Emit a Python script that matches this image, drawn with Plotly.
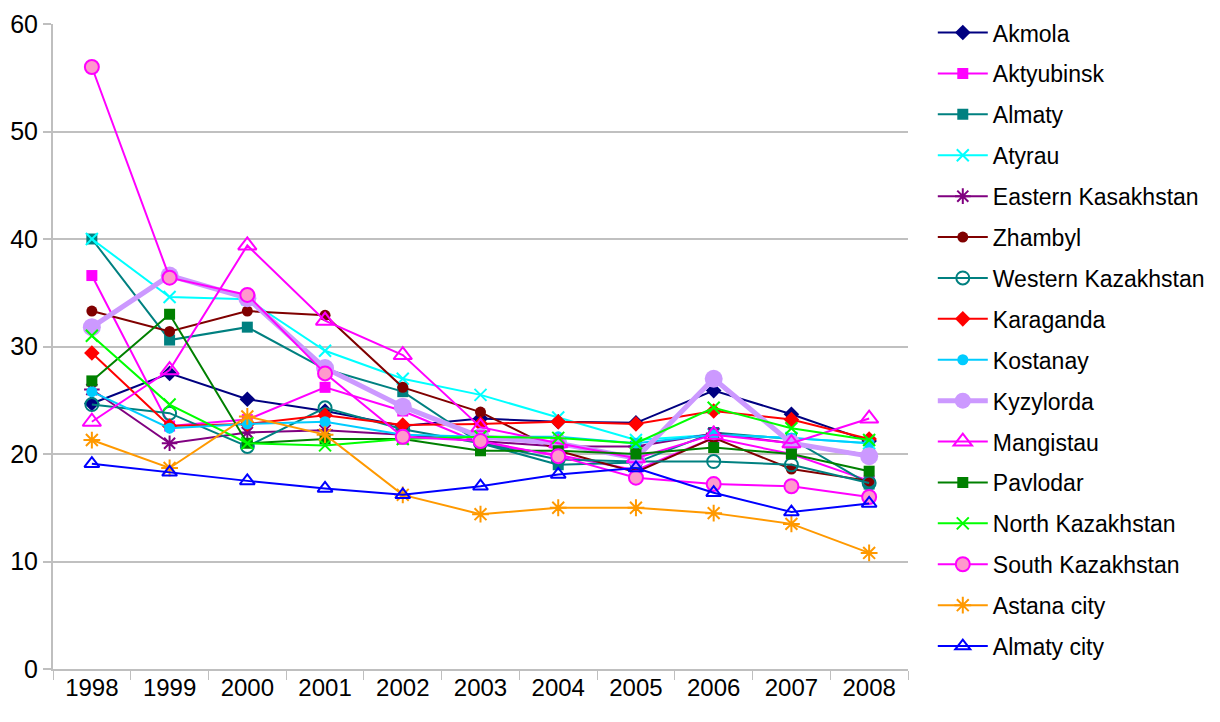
import plotly.graph_objects as go

years = ["1998", "1999", "2000", "2001", "2002", "2003", "2004", "2005", "2006", "2007", "2008"]

akmola = [24.7, 27.5, 25.1, 24.0, 22.6, 23.3, 23.0, 22.9, 25.9, 23.7, 21.2]
aktyubinsk = [36.6, 22.6, 23.2, 26.2, 24.0, 21.0, 19.9, 18.5, 21.5, 20.0, 17.5]
almaty = [40.0, 30.6, 31.8, 27.9, 25.8, 21.0, 19.0, 19.2, 22.0, 21.4, 17.2]
atyrau = [40.0, 34.6, 34.4, 29.6, 27.0, 25.5, 23.4, 21.3, 21.8, 21.5, 21.0]
eastern_kas = [26.0, 21.0, 22.0, 22.2, 21.8, 21.2, 20.7, 20.7, 21.9, 21.0, 19.9]
zhambyl = [33.3, 31.4, 33.3, 32.9, 26.2, 23.9, 20.3, 18.3, 21.5, 18.6, 17.5]
western_kaz = [24.6, 23.8, 20.7, 24.3, 22.3, 21.0, 19.5, 19.3, 19.3, 19.0, 17.3]
karaganda = [29.4, 22.6, 22.8, 23.6, 22.7, 22.8, 23.0, 22.8, 24.0, 23.2, 21.4]
kostanay = [25.8, 22.4, 22.8, 23.0, 21.8, 21.6, 21.6, 21.0, 21.8, 21.5, 21.0]
kyzylorda = [31.8, 36.6, 34.5, 28.0, 24.4, 21.6, 21.0, 19.6, 27.0, 21.0, 19.8]
mangistau = [23.0, 27.8, 39.4, 32.4, 29.2, 22.5, 21.0, 19.6, 21.8, 21.0, 23.3]
pavlodar = [26.8, 33.0, 21.0, 21.4, 21.4, 20.3, 20.3, 20.0, 20.6, 20.0, 18.4]
north_kaz = [31.0, 24.6, 21.0, 20.8, 21.4, 21.6, 21.5, 21.0, 24.3, 22.4, 21.3]
south_kaz = [56.0, 36.4, 34.8, 27.5, 21.6, 21.2, 19.8, 17.8, 17.2, 17.0, 16.0]
astana = [21.3, 18.7, 23.5, 21.8, 16.2, 14.4, 15.0, 15.0, 14.5, 13.5, 10.8]
almaty_city = [19.1, 18.3, 17.5, 16.8, 16.2, 17.0, 18.1, 18.7, 16.4, 14.6, 15.4]

series = [
    ("Akmola", akmola, "#000080", "diamond", 12, "#000080", 2, 0),
    ("Aktyubinsk", aktyubinsk, "#FF00FF", "square", 11, "#FF00FF", 2, 0),
    ("Almaty", almaty, "#008080", "square", 11, "#008080", 2, 0),
    ("Atyrau", atyrau, "#00FFFF", "x-thin-open", 12, "#00FFFF", 2, 2),
    ("Eastern Kasakhstan", eastern_kas, "#800080", "asterisk-open", 13, "#800080", 2, 2),
    ("Zhambyl", zhambyl, "#800000", "circle", 11, "#800000", 2, 0),
    ("Western Kazakhstan", western_kaz, "#008080", "circle-open", 13, "#008080", 2, 2),
    ("Karaganda", karaganda, "#FF0000", "diamond", 12, "#FF0000", 2, 0),
    ("Kostanay", kostanay, "#00CCFF", "circle", 11, "#00CCFF", 2, 0),
    ("Kyzylorda", kyzylorda, "#CC99FF", "circle", 18, "#CC99FF", 5, 0),
    ("Mangistau", mangistau, "#FF00FF", "triangle-up-open", 16, "#FF00FF", 2, 2),
    ("Pavlodar", pavlodar, "#008000", "square", 11, "#008000", 2, 0),
    ("North Kazakhstan", north_kaz, "#00FF00", "x-thin-open", 12, "#00FF00", 2, 2),
    ("South Kazakhstan", south_kaz, "#FF00FF", "circle", 14, "#FF99CC", 2, 2),
    ("Astana city", astana, "#FF9900", "asterisk-open", 14, "#FF9900", 2, 2),
    ("Almaty city", almaty_city, "#0000FF", "triangle-up-open", 13, "#0000FF", 2, 2),
]

fig = go.Figure()
for i, (name, vals, lc, sym, size, fill, lw, mlw) in enumerate(series):
    fig.add_trace(go.Scatter(
        x=years, y=vals, name=name, mode="lines+markers",
        line=dict(color=lc, width=lw),
        marker=dict(symbol=sym, size=size, color=fill, line=dict(width=mlw, color=lc)),
        legendgroup="g%d" % i,
    ))

fig.update_layout(
    width=1212, height=714,
    margin=dict(l=45, r=312, t=16, b=53, autoexpand=False),
    paper_bgcolor="white", plot_bgcolor="white",
    font=dict(family="Liberation Sans, Arial, sans-serif", size=20, color="black"),
    showlegend=True,
    legend=dict(x=1.029, y=1.02, xanchor="left", yanchor="top",
                font=dict(size=23), tracegroupgap=8, itemwidth=50,
                maxheight=1, bgcolor="rgba(0,0,0,0)"),
    xaxis=dict(type="category", range=[-0.5, 10.5], showgrid=False,
               showline=True, linecolor="#BFBFBF", linewidth=2,
               ticks="outside", tickson="boundaries", ticklen=9,
               tickcolor="#BFBFBF", tickwidth=1, ticklabelstandoff=-4,
               tickfont=dict(size=24),
               zeroline=False, automargin=False),
    yaxis=dict(range=[0, 60], dtick=10, showgrid=True, gridcolor="#C0C0C0",
               gridwidth=2, showline=True, linecolor="#BFBFBF", linewidth=2,
               ticks="outside", ticklen=8, tickcolor="#BFBFBF", tickwidth=2,
               tickfont=dict(size=25), zeroline=False, automargin=False),
)

fig.write_html("out.html")
